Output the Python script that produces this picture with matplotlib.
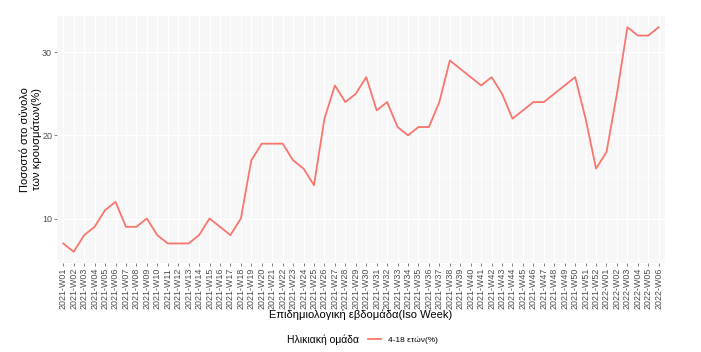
import numpy as np
import matplotlib
matplotlib.use("Agg")
import matplotlib.pyplot as plt
from matplotlib.offsetbox import HPacker

plt.rcParams['font.family'] = ['Liberation Sans', 'DejaVu Sans']

# weekly data
weeks = ["2021-W%02d" % i for i in range(1, 53)] + ["2022-W%02d" % i for i in range(1, 7)]
pct = [7, 6, 8, 9, 11, 12, 9, 9, 10, 8, 7, 7, 7, 8, 10, 9, 8, 10, 17, 19,
       19, 19, 17, 16, 14, 22, 26, 24, 25, 27, 23, 24, 21, 20, 21, 21, 24, 29, 28, 27,
       26, 27, 25, 22, 23, 24, 24, 25, 26, 27, 22, 16,
       18, 25, 33, 32, 32, 33]
series_name = "4-18 ετών(%)"

fig = plt.figure(figsize=(7.01, 3.52), dpi=100)
ax = fig.add_axes([57/701, 1-263/352, (665-57)/701, (263-16)/352])
ax.set_facecolor('#F7F7F7')

x = np.arange(len(weeks))
line, = ax.plot(x, pct, color='#F8766D', lw=1.3)

ax.set_xlim(-0.6, len(weeks) - 1 + 0.6)
ax.set_ylim(4.65, 34.35)
ax.set_yticks([10, 20, 30])
ax.set_yticks([5, 15, 25], minor=True)
ax.set_xticks(x)
ax.set_xticklabels(weeks, rotation=90, fontsize=6.4, color='#4D4D4D')
ax.tick_params(axis='y', labelsize=6.5, colors='#4D4D4D', length=2, width=0.5, pad=1.5)
ax.tick_params(axis='x', length=2, width=0.5, colors='#4D4D4D', pad=1.5)
ax.tick_params(axis='y', which='minor', length=0)
ax.grid(True, which='major', color='white', lw=0.8)
ax.grid(True, which='minor', axis='y', color='white', lw=0.4)
for s in ax.spines.values():
    s.set_visible(False)

ax.set_ylabel("Ποσοστό στο σύνολο\nτων κρουσμάτων(%)", fontsize=8, labelpad=0)
ax.set_xlabel("Επιδημιολογική εβδομάδα(Iso Week)", fontsize=8, labelpad=0)

leg = fig.legend([line], [series_name], loc='center', bbox_to_anchor=(0.517, 1 - 340/352),
                 frameon=False, fontsize=6, title="Ηλικιακή ομάδα",
                 title_fontsize=7.5, handlelength=1.6)
# title to the left of the entry, like ggplot's bottom legend
leg._legend_box._children = [HPacker(pad=0, sep=6, align='center',
                                     children=[leg._legend_title_box, leg._legend_handle_box])]

fig.savefig("out.png", dpi=100)
